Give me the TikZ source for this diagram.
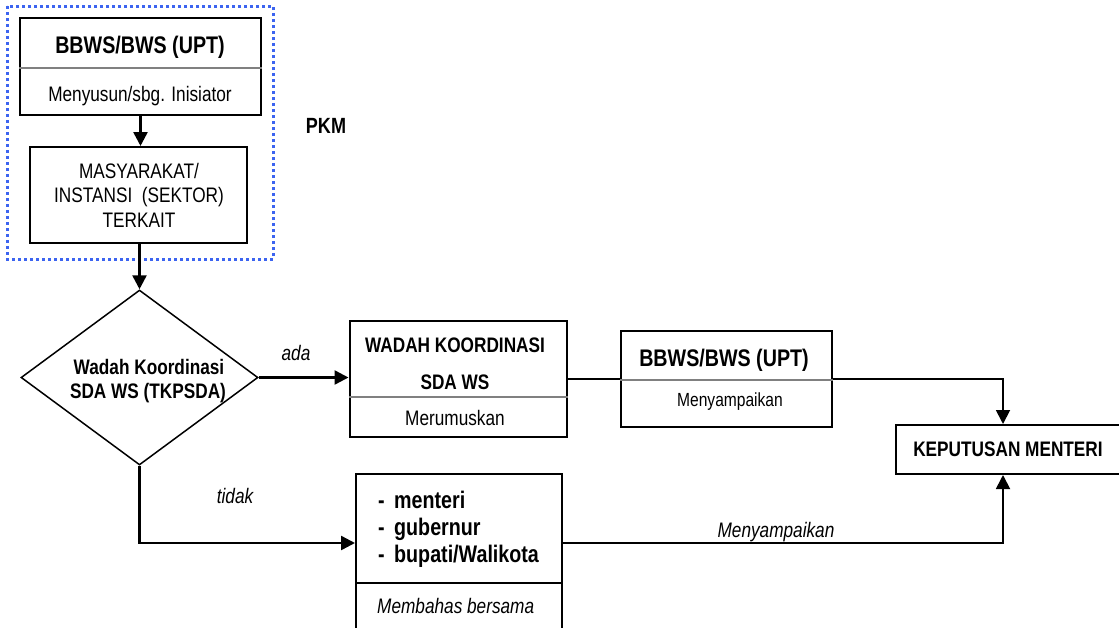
\documentclass[tikz,border=0pt]{standalone}
\usepackage{fontspec}
\setmainfont{Liberation Sans}[FakeStretch=0.82]
\usetikzlibrary{arrows.meta,shapes.geometric,calc}
\definecolor{dotblue}{RGB}{60,100,240}
\begin{document}
\begin{tikzpicture}[x=1pt,y=-1pt,
  box/.style={draw, line width=2pt, inner sep=0pt, rectangle},
  txt/.style={inner sep=0pt, anchor=base, font=\fontsize{21}{25}\selectfont},
  bold/.style={font=\fontsize{21}{25}\selectfont\bfseries},
  big/.style={font=\fontsize{24}{28}\selectfont\bfseries},
  ital/.style={font=\fontsize{21}{25}\selectfont\itshape},
  divider/.style={draw=black!50, line width=1.5pt},
  tipA/.tip={Triangle[length=14pt,width=14pt]},
  arr/.style={line width=2.5pt, -tipA},
  thinarr/.style={line width=1.8pt, -tipA},
  dotframe/.style={draw=dotblue, line width=3pt, dash pattern=on 3pt off 3pt}
]
\useasboundingbox (0,0) rectangle (1119,627);
\clip (0,0) rectangle (1119,627);
\fill[white] (0,0) rectangle (1119,627);

% dotted frame (PKM)
\draw[dotframe] (7,6) rectangle (273,259);
\node[txt, font=\fontsize{22}{26}\selectfont\bfseries] (pkm) at (326,133) {PKM};

% box 1
\node[box, minimum width=241pt, minimum height=97pt] (b1) at (140.5,66.5) {};
\draw[divider] (b1.west |- 0,68) -- (b1.east |- 0,68);
\node[txt, big] (b1t) at (140,53) {BBWS/BWS (UPT)};
\node[txt] (b1s) at (140,101) {Menyusun/sbg. Inisiator};

% box 2
\node[box, minimum width=217pt, minimum height=96pt] (b2) at (138.5,195) {};
\node[txt] (b2a) at (139,178) {MASYARAKAT/};
\node[txt] (b2b) at (139,202) {INSTANSI~~(SEKTOR)};
\node[txt] (b2c) at (139,227) {TERKAIT};

% diamond
\node[diamond, draw, line width=1.5pt, minimum width=237pt, minimum height=175pt, inner sep=0pt] (dia) at (139.5,377.5) {};
\node[txt, bold] (diat) at (149,374) {Wadah Koordinasi};
\node[txt, bold] (dias) at (148,398) {SDA WS (TKPSDA)};

% wadah box
\node[box, minimum width=217pt, minimum height=116pt] (wad) at (458,379) {};
\draw[divider] (wad.west |- 0,397) -- (wad.east |- 0,397);
\node[txt, bold] (wadt) at (455,352) {WADAH KOORDINASI};
\node[txt, bold] (wads) at (455,389) {SDA WS};
\node[txt] (wadm) at (455,425) {Merumuskan};

% BBWS box 2
\node[box, minimum width=211pt, minimum height=96pt] (bb2) at (726.5,379) {};
\draw[divider] (bb2.west |- 0,380) -- (bb2.east |- 0,380);
\node[txt, big] (bb2t) at (724,366) {BBWS/BWS (UPT)};
\node[txt, font=\fontsize{19}{23}\selectfont] (bb2s) at (730,406) {Menyampaikan};

% keputusan
\node[box, minimum width=230pt, minimum height=49pt] (kep) at (1011,449.5) {};
\node[txt, bold] (kept) at (1008,456) {KEPUTUSAN MENTERI};
\coordinate (kin) at (1003,449.5);

% menteri box
\node[box, minimum width=206pt, minimum height=170pt] (men) at (459,559) {};
\draw[line width=2pt] (men.west |- 0,583) -- (men.east |- 0,583);
\node[txt, font=\fontsize{24}{28}\selectfont\bfseries, anchor=base west] (m1) at (378,508) {\makebox[16pt][l]{-}menteri};
\node[txt, font=\fontsize{24}{28}\selectfont\bfseries, anchor=base west] (m2) at (378,535) {\makebox[16pt][l]{-}gubernur};
\node[txt, font=\fontsize{24}{28}\selectfont\bfseries, anchor=base west] (m3) at (378,562) {\makebox[16pt][l]{-}bupati/Walikota};
\node[txt, ital, anchor=base west] (mb) at (377,613) {Membahas bersama};
\coordinate (my) at (0,543);

% connectors
\draw[arr] (b1.south) -- (b1.south |- b2.north);
\draw[arr] (b2.south -| dia.north) -- (dia.north);
\draw[arr] (dia.east) -- (dia.east -| wad.west);
\node[txt, ital] (ada) at (296,360) {ada};
\draw[line width=2.5pt] (wad.east) -- (wad.east -| bb2.west);
\draw[thinarr] (bb2.east) -| (kep.north -| kin);
\draw[arr] (dia.south) |- (men.west |- my);
\node[txt, ital] (tidak) at (235,503) {tidak};
\draw[thinarr] (men.east |- my) -| (kep.south -| kin);
\node[txt, ital] (lbl) at (776,537) {Menyampaikan};
\end{tikzpicture}
\end{document}
